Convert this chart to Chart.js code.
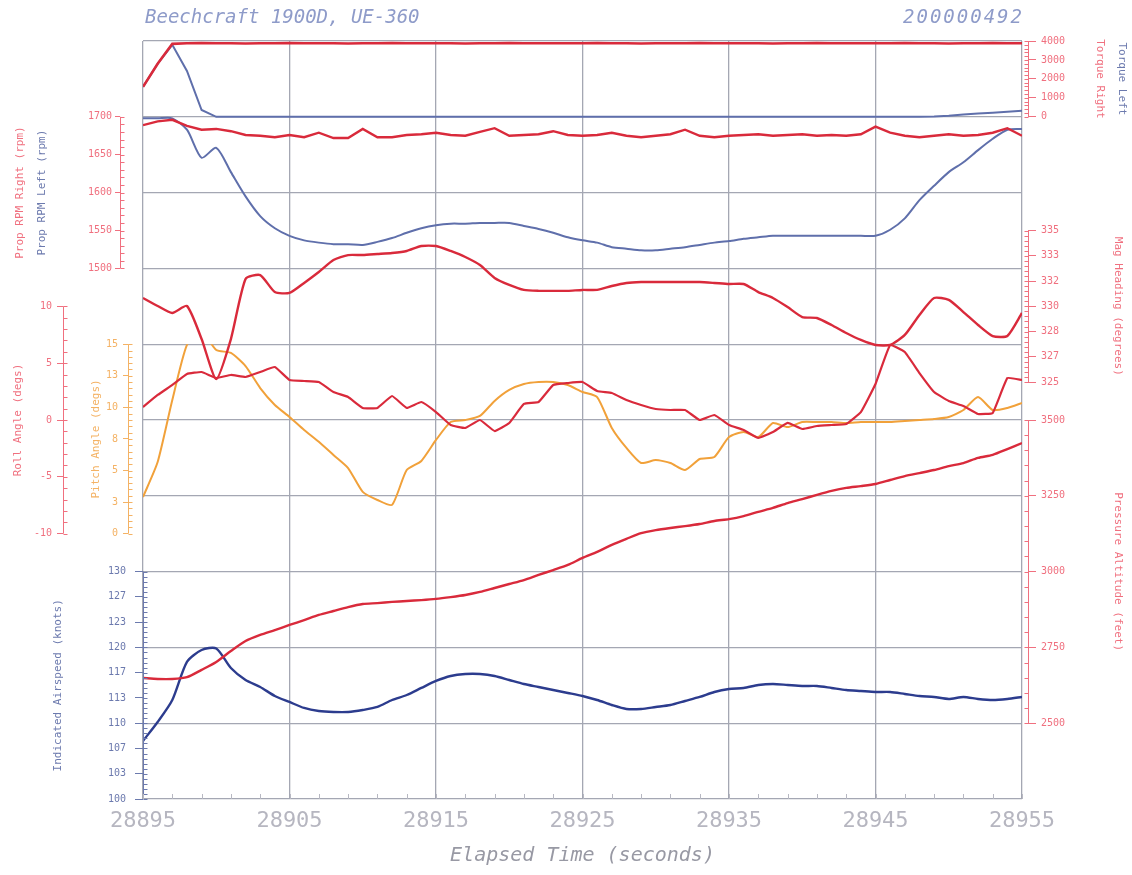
<!DOCTYPE html>
<html>
<head>
<meta charset="utf-8">
<script src="https://cdn.jsdelivr.net/npm/chart.js@4/dist/chart.umd.min.js"></script>
<style>
  html, body { margin: 0; padding: 0; background: #ffffff; }
  #wrap { width: 1132px; height: 875px; }
</style>
</head>
<body>
<div id="wrap"><canvas id="flight" width="1132" height="875"></canvas></div>
<script>
// Elapsed time of each sample (seconds)
const times = [
  28895, 28896, 28897, 28898, 28899, 28900, 28901, 28902, 28903, 28904,
  28905, 28906, 28907, 28908, 28909, 28910, 28911, 28912, 28913, 28914,
  28915, 28916, 28917, 28918, 28919, 28920, 28921, 28922, 28923, 28924,
  28925, 28926, 28927, 28928, 28929, 28930, 28931, 28932, 28933, 28934,
  28935, 28936, 28937, 28938, 28939, 28940, 28941, 28942, 28943, 28944,
  28945, 28946, 28947, 28948, 28949, 28950, 28951, 28952, 28953, 28954,
  28955
];

const torqueRight = [
  1580, 2800, 3850, 3880, 3890, 3880, 3880, 3870, 3880, 3880,
  3890, 3880, 3880, 3880, 3870, 3880, 3880, 3890, 3880, 3880,
  3880, 3880, 3870, 3880, 3880, 3890, 3880, 3880, 3880, 3880,
  3880, 3890, 3880, 3880, 3870, 3880, 3880, 3880, 3890, 3880,
  3880, 3880, 3880, 3870, 3880, 3880, 3890, 3880, 3880, 3880,
  3880, 3880, 3890, 3880, 3880, 3870, 3880, 3880, 3890, 3880,
  3880
];

const torqueLeft = [
  1580, 2800, 3800, 2420, 360, 0, 0, 0, 0, 0,
  0, 0, 0, 0, 0, 0, 0, 0, 0, 0,
  0, 0, 0, 0, 0, 0, 0, 0, 0, 0,
  0, 0, 0, 0, 0, 0, 0, 0, 0, 0,
  0, 0, 0, 0, 0, 0, 0, 0, 0, 0,
  0, 0, 0, 0, 20, 60, 120, 170, 220, 270,
  320
];

const rpmRight = [
  1689, 1694, 1696, 1688, 1683, 1684, 1681, 1676, 1675, 1673,
  1676, 1673, 1679, 1672, 1672, 1684, 1673, 1673, 1676, 1677,
  1679, 1676, 1675, 1680, 1685, 1675, 1676, 1677, 1681, 1676,
  1675, 1676, 1679, 1675, 1673, 1675, 1677, 1683, 1675, 1673,
  1675, 1676, 1677, 1675, 1676, 1677, 1675, 1676, 1675, 1677,
  1687, 1679, 1675, 1673, 1675, 1677, 1675, 1676, 1679, 1685,
  1675
];

const rpmLeft = [
  1698, 1698, 1698, 1683, 1646, 1659, 1627, 1595, 1569, 1553,
  1543, 1537, 1534, 1532, 1532, 1531, 1535, 1540, 1547, 1553,
  1557, 1559, 1559, 1560, 1560, 1560, 1556, 1552, 1547, 1541,
  1537, 1534, 1528, 1526, 1524, 1524, 1526, 1528, 1531, 1534,
  1536, 1539, 1541, 1543, 1543, 1543, 1543, 1543, 1543, 1543,
  1543, 1551, 1566, 1590, 1609, 1627, 1640, 1656, 1671, 1683,
  1684
];

const magHeading = [
  330.55, 330.02, 329.56, 330.02, 327.84, 325.20, 327.84, 331.80, 332.06, 330.94,
  330.88, 331.54, 332.26, 333.05, 333.38, 333.38, 333.45, 333.52, 333.65, 333.98,
  333.98, 333.65, 333.25, 332.72, 331.87, 331.41, 331.08, 331.02, 331.02, 331.02,
  331.08, 331.08, 331.34, 331.54, 331.60, 331.60, 331.60, 331.60, 331.60, 331.54,
  331.47, 331.47, 330.94, 330.55, 329.95, 329.29, 329.23, 328.77, 328.24, 327.78,
  327.45, 327.45, 328.11, 329.43, 330.55, 330.42, 329.62, 328.77, 328.04, 328.04,
  329.56
];

const rollAngle = [
  1.14, 2.20, 3.08, 4.05, 4.22, 3.69, 3.96, 3.78, 4.22, 4.66,
  3.52, 3.43, 3.34, 2.46, 2.02, 1.06, 1.06, 2.11, 1.06, 1.58,
  0.70, -0.44, -0.70, 0.00, -0.97, -0.26, 1.41, 1.58, 3.08, 3.25,
  3.34, 2.55, 2.38, 1.76, 1.32, 0.97, 0.88, 0.88, 0.00, 0.44,
  -0.44, -0.88, -1.58, -1.06, -0.26, -0.79, -0.53, -0.44, -0.35, 0.70,
  3.17, 6.60, 5.98, 4.13, 2.46, 1.67, 1.23, 0.53, 0.62, 3.69,
  3.52
];

const pitchAngle = [
  2.90, 5.67, 10.58, 14.94, 16.00, 14.54, 14.31, 13.27, 11.53, 10.19,
  9.24, 8.21, 7.27, 6.23, 5.20, 3.31, 2.67, 2.28, 5.04, 5.76,
  7.42, 8.84, 9.00, 9.32, 10.51, 11.38, 11.85, 12.01, 12.01, 11.77,
  11.22, 10.82, 8.37, 6.79, 5.60, 5.83, 5.60, 5.04, 5.91, 6.07,
  7.65, 8.05, 7.65, 8.76, 8.44, 8.84, 8.84, 8.84, 8.76, 8.84,
  8.84, 8.84, 8.92, 9.00, 9.08, 9.24, 9.79, 10.82, 9.79, 9.95,
  10.35
];

const pressureAltitude = [
  2649, 2646, 2646, 2652, 2676, 2702, 2738, 2771, 2791, 2807,
  2824, 2840, 2857, 2870, 2883, 2893, 2896, 2900, 2903, 2906,
  2910, 2916, 2923, 2933, 2946, 2959, 2972, 2989, 3005, 3022,
  3045, 3065, 3088, 3108, 3127, 3137, 3144, 3150, 3157, 3167,
  3173, 3183, 3197, 3210, 3226, 3239, 3253, 3266, 3276, 3282,
  3289, 3302, 3315, 3325, 3335, 3348, 3358, 3375, 3385, 3404,
  3424
];

const airspeed = [
  107.66, 110.16, 113.06, 118.08, 119.66, 119.86, 117.28, 115.70, 114.78, 113.59,
  112.80, 112.01, 111.61, 111.48, 111.48, 111.74, 112.14, 113.06, 113.72, 114.65,
  115.57, 116.23, 116.49, 116.49, 116.23, 115.70, 115.17, 114.78, 114.38, 113.99,
  113.59, 113.06, 112.40, 111.88, 111.88, 112.14, 112.40, 112.93, 113.46, 114.12,
  114.51, 114.65, 115.04, 115.17, 115.04, 114.91, 114.91, 114.65, 114.38, 114.25,
  114.12, 114.12, 113.86, 113.59, 113.46, 113.20, 113.46, 113.20, 113.06, 113.20,
  113.46
];

// Tick values of each axis
const timeTicks = [28895, 28905, 28915, 28925, 28935, 28945, 28955];
const torqueTicks = [0, 1000, 2000, 3000, 4000];
const rpmTicks = [1500, 1550, 1600, 1650, 1700];
const headingTicks = [325, 326.667, 328.333, 330, 331.667, 333.333, 335];
const rollTicks = [-10, -5, 0, 5, 10];
const pitchTicks = [0, 2.5, 5, 7.5, 10, 12.5, 15];
const altitudeTicks = [2500, 2750, 3000, 3250, 3500];
const airspeedTicks = [100, 103.333, 106.667, 110, 113.333, 116.667, 120, 123.333, 126.667, 130];
const gridRows = [0, 1, 2, 3, 4, 5, 6, 7, 8, 9, 10];

const RED = '#d92a3b';
const RED_TXT = '#f0707f';
const SLATE = '#5f6fab';
const SLATE_TXT = '#6c7aae';
const NAVY = '#2c3c8e';
const ORANGE = '#f1a13a';
const ORANGE_TXT = '#f4b264';
const GRID = '#a4a7b3';
const MONO = "'DejaVu Sans Mono', monospace";

// Every y scale spans the whole plot; its labelled range [lo, hi] occupies
// the strip between fractions fTop and fBot of the plot height.
function stripRange(lo, hi, fTop, fBot) {
  const perUnit = (hi - lo) / (fBot - fTop);
  return { min: lo - (1 - fBot) * perUnit, max: hi + fTop * perUnit };
}

const strips = {
  yTorque:   { lo: 0,    hi: 4000, fTop: 0.00, fBot: 0.10, ticks: torqueTicks,   minor: 20, color: RED_TXT,    side: 'right', weight: 3, width: 104, tickLen: 8, pad: 5,
               titles: [['Torque Right', RED_TXT, 72], ['Torque Left', SLATE_TXT, 94]] },
  yHeading:  { lo: 325,  hi: 335,  fTop: 0.25, fBot: 0.45, ticks: headingTicks,  minor: 30, color: RED_TXT,    side: 'right', weight: 1, width: 0,   tickLen: 8, pad: 5,
               titles: [['Mag Heading (degrees)', RED_TXT, 90]] },
  yAltitude: { lo: 2500, hi: 3500, fTop: 0.50, fBot: 0.90, ticks: altitudeTicks, minor: 20, color: RED_TXT,    side: 'right', weight: 2, width: 0,   tickLen: 8, pad: 5,
               titles: [['Pressure Altitude (feet)', RED_TXT, 90]] },
  yAirspeed: { lo: 100,  hi: 130,  fTop: 0.70, fBot: 1.00, ticks: airspeedTicks, minor: 45, color: SLATE_TXT,  side: 'left',  weight: 0, width: 15,  tickLen: 8, pad: 9,
               titles: [['Indicated Airspeed (knots)', SLATE_TXT, -85]] },
  yPitch:    { lo: 0,    hi: 15,   fTop: 0.40, fBot: 0.65, ticks: pitchTicks,    minor: 30, color: ORANGE_TXT, side: 'left',  weight: 1, width: 8,   tickLen: 5, pad: 5,
               titles: [['Pitch Angle (degs)', ORANGE_TXT, -32]] },
  yRpm:      { lo: 1500, hi: 1700, fTop: 0.10, fBot: 0.30, ticks: rpmTicks,      minor: 20, color: RED_TXT,    side: 'left',  weight: 2, width: 57,  tickLen: 5, pad: 3,
               titles: [['Prop RPM Right (rpm)', RED_TXT, -100], ['Prop RPM Left (rpm)', SLATE_TXT, -78]] },
  yRoll:     { lo: -10,  hi: 10,   fTop: 0.35, fBot: 0.65, ticks: rollTicks,     minor: 20, color: RED_TXT,    side: 'left',  weight: 3, width: 63,  tickLen: 6, pad: 5,
               titles: [['Roll Angle (degs)', RED_TXT, -45]] }
};

function stripScale(s) {
  const r = stripRange(s.lo, s.hi, s.fTop, s.fBot);
  return {
    type: 'linear', position: s.side, weight: s.weight, min: r.min, max: r.max,
    afterBuildTicks: axis => { axis.ticks = s.ticks.map(v => ({ value: v })); },
    afterFit: axis => {
      axis.width = s.width;
      // the stacked axes share columns, so labels may spill past a narrow box
      axis._computeLabelArea = () => null;
    },
    border: { display: false },
    grid: { drawOnChartArea: false, drawTicks: true, tickLength: s.tickLen, tickColor: s.color, tickWidth: 1 },
    ticks: { autoSkip: false, color: s.color, padding: s.pad, font: { family: MONO, size: 10 },
             callback: v => String(Math.round(v)) }
  };
}

const scales = {
  x: {
    type: 'linear', position: 'bottom', min: 28895, max: 28955,
    afterBuildTicks: axis => { axis.ticks = timeTicks.map(v => ({ value: v })); },
    afterFit: axis => { axis.height = 76; },
    border: { display: false },
    grid: { color: GRID, lineWidth: 1.3, drawTicks: false },
    ticks: { autoSkip: false, maxRotation: 0, color: '#b6b6c0', padding: 9,
             font: { family: MONO, size: 22 }, callback: v => String(v) },
    title: { display: true, text: 'Elapsed Time (seconds)', color: '#9899a4',
             font: { family: MONO, size: 20, style: 'italic' }, padding: { top: 2, bottom: 7 } }
  },
  yGrid: {
    type: 'linear', position: 'left', weight: -1, min: 0, max: 10,
    afterBuildTicks: axis => { axis.ticks = gridRows.map(v => ({ value: v })); },
    afterFit: axis => { axis.width = 0; },
    border: { display: false },
    grid: { color: GRID, lineWidth: 1.3, drawTicks: false },
    ticks: { display: false }
  },
  yGap: {
    type: 'linear', position: 'right', weight: 0, min: 0, max: 1,
    afterFit: axis => { axis.width = 6; },
    border: { display: false }, grid: { display: false }, ticks: { display: false }
  }
};
Object.keys(strips).forEach(id => { scales[id] = stripScale(strips[id]); });

function pts(series) { return times.map((t, i) => ({ x: t, y: series[i] })); }

function line(label, series, axis, color, width, tension) {
  return { label, data: pts(series), yAxisID: axis, borderColor: color, backgroundColor: color,
           borderWidth: width, pointRadius: 0, tension, fill: false };
}

const datasets = [
  line('Torque Right', torqueRight, 'yTorque', RED, 2.6, 0),
  line('Torque Left', torqueLeft, 'yTorque', SLATE, 2, 0),
  line('Prop RPM Right', rpmRight, 'yRpm', RED, 2.4, 0),
  line('Prop RPM Left', rpmLeft, 'yRpm', SLATE, 2, 0.25),
  line('Mag Heading', magHeading, 'yHeading', RED, 2.4, 0.2),
  line('Roll Angle', rollAngle, 'yRoll', RED, 2.2, 0.1),
  line('Pitch Angle', pitchAngle, 'yPitch', ORANGE, 2, 0.2),
  line('Pressure Altitude', pressureAltitude, 'yAltitude', RED, 2.4, 0.25),
  line('Indicated Airspeed', airspeed, 'yAirspeed', NAVY, 2.4, 0.25)
];

// Pitch is cut off above the top of its own strip
const stripClip = {
  id: 'stripClip',
  beforeDatasetDraw(chart, args) {
    const ds = chart.data.datasets[args.index];
    if (ds.yAxisID !== 'yPitch') return;
    const y = chart.scales.yPitch;
    const a = chart.chartArea;
    const top = y.getPixelForValue(strips.yPitch.hi);
    chart.ctx.save();
    chart.ctx.beginPath();
    chart.ctx.rect(a.left, top, a.right - a.left, a.bottom - top);
    chart.ctx.clip();
  },
  afterDatasetDraw(chart, args) {
    if (chart.data.datasets[args.index].yAxisID === 'yPitch') chart.ctx.restore();
  }
};

// Axis spines, minor ticks, rotated axis titles, header and x minor ticks
const decorations = {
  id: 'decorations',
  afterDraw(chart) {
    const ctx = chart.ctx;
    const a = chart.chartArea;
    ctx.save();
    Object.keys(strips).forEach(id => {
      const s = strips[id];
      const sc = chart.scales[id];
      const x = s.side === 'left' ? sc.right : sc.left;
      const yLo = sc.getPixelForValue(s.lo), yHi = sc.getPixelForValue(s.hi);
      ctx.strokeStyle = s.color;
      ctx.lineWidth = 1;
      ctx.beginPath();
      ctx.moveTo(x + 0.5, yLo);
      ctx.lineTo(x + 0.5, yHi);
      const dir = s.side === 'left' ? 1 : -1;
      for (let i = 0; i <= s.minor; i++) {
        const y = Math.round(yLo + (yHi - yLo) * i / s.minor) + 0.5;
        ctx.moveTo(x + 0.5, y);
        ctx.lineTo(x + 0.5 + dir * 4, y);
      }
      ctx.stroke();
      const mid = (yLo + yHi) / 2;
      s.titles.forEach(([text, color, dx]) => {
        ctx.save();
        ctx.translate(x + dx, mid);
        ctx.rotate(s.side === 'left' ? -Math.PI / 2 : Math.PI / 2);
        ctx.fillStyle = color;
        ctx.font = '11px ' + MONO;
        ctx.textAlign = 'center';
        ctx.textBaseline = 'middle';
        ctx.fillText(text, 0, 0);
        ctx.restore();
      });
    });
    // x minor ticks every 2 seconds
    const xs = chart.scales.x;
    ctx.strokeStyle = '#b7b8c2';
    ctx.lineWidth = 1;
    ctx.beginPath();
    for (let t = xs.min; t <= xs.max; t += 2) {
      const px = Math.round(xs.getPixelForValue(t)) + 0.5;
      ctx.moveTo(px, a.bottom);
      ctx.lineTo(px, a.bottom - 5);
    }
    ctx.stroke();
    // header
    ctx.fillStyle = '#8e9bc9';
    ctx.font = 'italic 19px ' + MONO;
    ctx.textBaseline = 'middle';
    ctx.textAlign = 'left';
    ctx.fillText('Beechcraft 1900D, UE-360', a.left + 2, 18);
    ctx.textAlign = 'right';
    ctx.letterSpacing = '2px';
    ctx.fillText('200000492', a.right + 2, 18);
    ctx.restore();
  }
};

new Chart(document.getElementById('flight'), {
  type: 'line',
  data: { datasets },
  options: {
    responsive: false,
    animation: false,
    devicePixelRatio: 1,
    parsing: true,
    layout: { padding: { top: 41, left: 0, right: 0, bottom: 0 } },
    plugins: { legend: { display: false }, tooltip: { enabled: false } },
    scales
  },
  plugins: [stripClip, decorations]
});
</script>
</body>
</html>
